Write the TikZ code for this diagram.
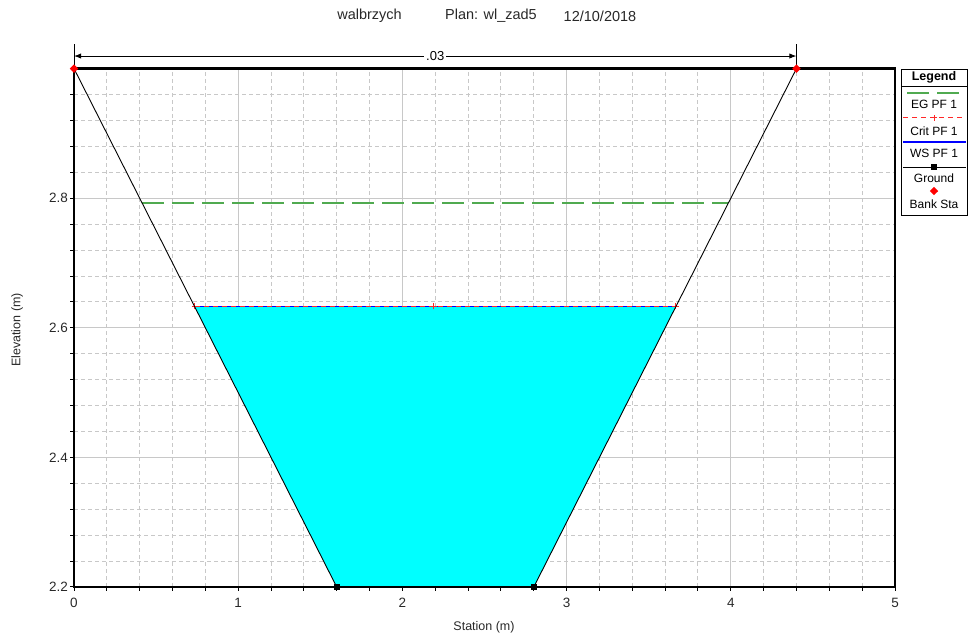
\documentclass[tikz,border=0pt]{standalone}
\usepackage{fontspec}
\setmainfont{Liberation Sans}
\usetikzlibrary{arrows.meta,positioning}

\definecolor{gridgray}{RGB}{200,200,200}
\definecolor{egcolor}{RGB}{80,170,80}
\definecolor{wscolor}{RGB}{0,0,255}
\definecolor{critred}{RGB}{255,40,40}
\definecolor{watercolor}{RGB}{0,255,255}
\definecolor{labelgray}{RGB}{40,40,40}

\tikzset{
  gridmajor/.style={draw=gridgray, line width=1pt},
  gridminor/.style={draw=gridgray, line width=1pt, dash pattern=on 4pt off 3pt},
  ticklabel/.style={font=\fontsize{13.5}{15}\selectfont, text=labelgray, inner sep=0pt},
  axistitle/.style={font=\fontsize{12.5}{14}\selectfont, text=labelgray, inner sep=0pt},
  titletext/.style={font=\fontsize{14.5}{16}\selectfont, text=labelgray, inner sep=0pt},
  legendtext/.style={font=\fontsize{12}{14}\selectfont, inner sep=0pt},
  egline/.style={draw=egcolor, line width=2pt, dash pattern=on 22pt off 8pt},
  wsline/.style={draw=wscolor, line width=1.5pt},
  critline/.style={draw=critred, line width=1pt, dash pattern=on 5pt off 4pt},
  groundline/.style={draw=black, line width=0.9pt},
  groundmark/.style={fill=black, minimum size=6pt, inner sep=0pt},
  bankmark/.style={fill=red, minimum size=6pt, inner sep=0pt, rotate=45},
  critplus/.pic={\draw[critred, line width=1pt] (-3pt,0) -- (3pt,0) (0,-3pt) -- (0,3pt);}
}

\begin{document}
\begin{tikzpicture}[x=164.2pt, y=648pt, >=Latex]
    \useasboundingbox (-0.4507,2.1259) rectangle (5.4446,3.1059);

    % grid
    \foreach \i in {1,...,24}
        \draw[gridminor] (\i/5,2.2) -- (\i/5,3.0);
    \foreach \j in {1,...,19}
        \draw[gridminor] (0,{2.2+\j*0.04}) -- (5,{2.2+\j*0.04});
    \foreach \i in {1,...,4}
        \draw[gridmajor] (\i,2.2) -- (\i,3.0);
    \foreach \e in {2.4,2.6,2.8}
        \draw[gridmajor] (0,\e) -- (5,\e);

    % ground points
    \coordinate (bankL) at (0,3.0);
    \coordinate (toeL) at (1.6,2.2);
    \coordinate (toeR) at (2.8,2.2);
    \coordinate (bankR) at (4.4,3.0);

    % water surface
    \coordinate (wsL) at (0.734,2.633);
    \coordinate (wsR) at (3.666,2.633);
    \coordinate (wsMid) at (2.19,2.633);
    \fill[watercolor] (wsL) -- (wsR) -- (toeR) -- (toeL) -- cycle;

    % energy grade
    \coordinate (egL) at (0.416,2.792);
    \coordinate (egR) at (3.984,2.792);
    \draw[egline] (egL) -- (egR);

    % water surface and critical depth
    \draw[wsline] (wsL) -- (wsR);
    \draw[critline] (wsL) -- (wsR);
    \pic at (wsL) {critplus};
    \pic at (wsMid) {critplus};
    \pic at (wsR) {critplus};

    % ground
    \draw[groundline] (bankL) -- (toeL) -- (toeR) -- (bankR);

    % frame and ticks
    \draw[line width=2.5pt] (0,2.2) rectangle (5,3.0);
    \foreach \j in {0,...,20}
        \draw[line width=1pt] (0,{2.2+\j*0.04}) -- ++(-4pt,0);
    \foreach \i in {0,...,25}
        \draw[line width=1pt] (\i/5,2.2) -- ++(0,-4pt);

    % tick labels
    \foreach \e in {2.2,2.4,2.6,2.8}
        \node[ticklabel, anchor=east] (yl\e) at ([xshift=-6pt]0,\e) {\e};
    \foreach \i in {0,...,5}
        \node[ticklabel] (xl\i) at (\i,2.1753) {\i};

    % axis titles
    \node[axistitle, rotate=90] (ytitle) at (-0.347,2.5966) {Elevation (m)};
    \node[axistitle] (xtitle) at (2.497,2.1383) {Station (m)};

    % plot title
    \node[titletext] (tRiver) at (1.7997,3.081) {walbrzych};
    \node[titletext] (tPlan) at (2.5396,3.081) {Plan: wl\_zad5};
    \node[titletext] (tDate) at (3.2034,3.081) {12/10/2018};

    % roughness dimension
    \coordinate (dimL) at (0,3.0194);
    \coordinate (dimR) at (4.4,3.0194);
    \draw[line width=0.9pt] (bankL) -- (0,3.038);
    \draw[line width=0.9pt] (bankR) -- (4.4,3.038);
    \draw[<->, line width=0.9pt] (dimL) -- (dimR)
        node[midway, fill=white, font=\fontsize{13}{15}\selectfont, inner sep=2pt] (nval) {.03};

    % markers
    \node[groundmark] (gmL) at (toeL) {};
    \node[groundmark] (gmR) at (toeR) {};
    \node[bankmark] (bmL) at (bankL) {};
    \node[bankmark] (bmR) at (bankR) {};

    % legend
    \draw[line width=0.8pt] (5.0365,2.7741) rectangle (5.4385,2.9994);
    \node[legendtext, font=\fontsize{12.5}{14}\selectfont\bfseries] (legTitle) at (5.2375,2.9870) {Legend};
    \draw[line width=0.8pt] (5.0365,2.9731) -- (5.4385,2.9731);
    \draw[egline] (5.0731,2.9623) -- (5.4021,2.9623);
    \node[legendtext] (legEG) at (5.2375,2.9454) {EG PF 1};
    \draw[critline] (5.0487,2.9238) -- (5.4264,2.9238);
    \pic at (5.2375,2.9238) {critplus};
    \node[legendtext] (legCrit) at (5.2375,2.9037) {Crit PF 1};
    \draw[wsline] (5.0487,2.8867) -- (5.4324,2.8867);
    \node[legendtext] (legWS) at (5.2375,2.8698) {WS PF 1};
    \draw[groundline] (5.0487,2.8481) -- (5.4324,2.8481);
    \node[groundmark] (legGm) at (5.2375,2.8481) {};
    \node[legendtext] (legGround) at (5.2375,2.8312) {Ground};
    \node[bankmark] (legBm) at (5.2375,2.8111) {};
    \node[legendtext] (legBank) at (5.2375,2.7910) {Bank Sta};
\end{tikzpicture}
\end{document}
